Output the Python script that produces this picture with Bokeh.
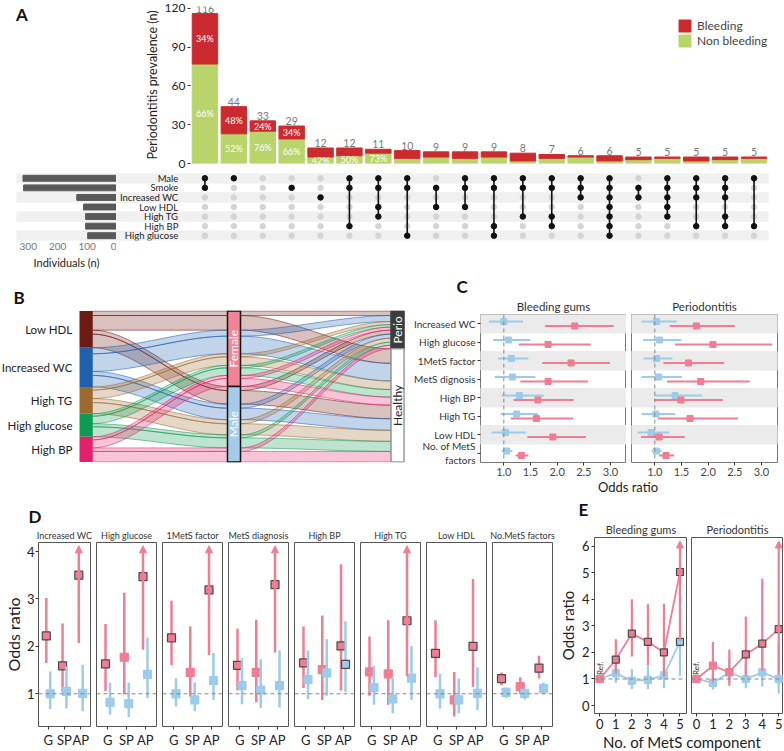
import math
import numpy as np
from bokeh.plotting import figure
from bokeh.models import (Range1d, FixedTicker, Span, Title, Legend, LegendItem, Div,
                          Arrow, NormalHead, ColumnDataSource, PrintfTickFormatter)
from bokeh.layouts import row, column
from bokeh.embed import file_html
from bokeh.resources import INLINE
from bokeh.core.properties import value

FONT = "Lato"
PINK = "#F07D92"
BLUE = "#9DCBEA"
RED = "#CB2B2F"
GREEN = "#B9D46B"

# ---------------- Panel A data ----------------
bar_totals = [116, 44, 33, 29, 12, 12, 11, 10, 9, 9, 9, 8, 7, 6, 6, 5, 5, 5, 5, 5]
bar_bleeding = [39, 21, 8, 10, 7, 6, 3, 6, 4, 5, 4, 6, 3, 1, 4, 2, 1, 3, 2, 1]
set_names = ["Male", "Smoke", "Increased WC", "Low HDL", "High TG", "High BP", "High glucose"]
set_sizes = [318, 316, 135, 112, 105, 105, 98]
combos = [
    ["Male", "Smoke"],
    ["Male"],
    [],
    ["Smoke"],
    ["Increased WC"],
    ["Male", "Smoke", "High BP"],
    ["Male", "Smoke", "Low HDL", "High TG"],
    ["Male", "Smoke", "High glucose"],
    ["Smoke", "Low HDL"],
    ["Male", "Smoke", "Low HDL"],
    ["Male", "Smoke", "High BP", "High glucose"],
    ["Male", "Smoke", "High TG"],
    ["Male", "Smoke", "High TG", "High BP"],
    ["Male", "Smoke", "Increased WC"],
    ["Male", "Smoke", "Increased WC", "Low HDL", "High TG", "High BP", "High glucose"],
    ["Smoke", "Increased WC"],
    ["Male", "Smoke", "Increased WC", "Low HDL", "High TG"],
    ["Male", "Smoke", "Increased WC", "High BP"],
    ["Male", "Smoke", "Increased WC", "High TG", "High BP"],
    ["Male", "High BP"],
]
N_PCT_RED = 4
N_PCT_GREEN = 7

# ---------------- Panel B data ----------------
sk_factors = ["Low HDL", "Increased WC", "High TG", "High glucose", "High BP"]
sk_colors = ["#6E1A14", "#1F5FAD", "#9B6A2F", "#0E9A52", "#E3206B"]
sk_sexes = ["Female", "Male"]
sk_outcomes = ["Perio", "Healthy"]
fem_perio = [9, 12, 6, 5, 6]
fem_healthy = [29, 35, 17, 15, 16]
male_perio = [8, 8, 8, 6, 7]
male_healthy = [27, 23, 22, 20, 21]

# ---------------- Panel C data ----------------
c_rows = ["Increased WC", "High glucose", "1MetS factor", "MetS dignosis", "High BP",
          "High TG", "Low HDL", "No. of MetS\nfactors"]
c_bleed_blue_or = [1.00, 1.09, 1.14, 1.16, 1.29, 1.24, 1.03, 1.05]
c_bleed_blue_lo = [0.72, 0.80, 0.89, 0.83, 0.96, 0.94, 0.77, 0.96]
c_bleed_blue_hi = [1.36, 1.50, 1.46, 1.59, 1.75, 1.64, 1.41, 1.16]
c_bleed_pink_or = [2.33, 1.83, 2.26, 1.83, 1.64, 1.61, 1.92, 1.33]
c_bleed_pink_lo = [1.77, 1.28, 1.72, 1.31, 1.18, 1.13, 1.44, 1.22]
c_bleed_pink_hi = [3.06, 2.63, 2.99, 2.58, 2.31, 2.30, 2.54, 1.46]
c_perio_blue_or = [1.03, 1.09, 1.03, 1.07, 1.38, 1.02, 0.93, 1.03]
c_perio_blue_lo = [0.75, 0.78, 0.79, 0.75, 1.00, 0.75, 0.68, 0.94]
c_perio_blue_hi = [1.41, 1.50, 1.33, 1.51, 1.89, 1.38, 1.27, 1.13]
c_perio_pink_or = [1.78, 2.09, 1.63, 1.86, 1.49, 1.66, 1.08, 1.21]
c_perio_pink_lo = [1.28, 1.38, 1.16, 1.23, 0.99, 1.06, 0.74, 1.08]
c_perio_pink_hi = [2.50, 3.20, 2.30, 2.78, 2.28, 2.56, 1.56, 1.36]

# ---------------- Panel D data ----------------
d_facets = ["Increased WC", "High glucose", "1MetS factor", "MetS diagnosis", "High BP",
            "High TG", "Low HDL", "No.MetS factors"]
d_groups = ["G", "SP", "AP"]
d_pink_or = [[2.22, 1.59, 3.50], [1.63, 1.77, 3.47], [2.18, 1.45, 3.19], [1.60, 1.45, 3.30],
             [1.65, 1.51, 2.01], [1.46, 1.42, 2.54], [1.85, 0.87, 2.00], [1.32, 1.15, 1.54]]
d_pink_lo = [[1.65, 1.03, 2.07], [1.06, 0.99, 1.93], [1.60, 0.94, 1.82], [1.07, 0.82, 1.87],
             [1.12, 0.87, 1.07], [0.96, 0.77, 1.37], [1.35, 0.52, 1.15], [1.18, 0.99, 1.32]]
d_pink_hi = [[3.02, 2.48, 5.90], [2.47, 3.13, 6.20], [2.96, 2.42, 5.60], [2.37, 2.56, 5.80],
             [2.42, 2.65, 3.73], [2.21, 2.55, 4.90], [2.55, 1.46, 3.42], [1.45, 1.35, 1.80]]
d_blue_or = [[1.00, 1.05, 1.01], [0.82, 0.79, 1.41], [1.00, 0.87, 1.28], [1.17, 1.08, 1.17],
             [1.30, 1.44, 1.62], [1.13, 0.89, 1.33], [1.00, 0.87, 1.01], [1.03, 1.01, 1.11]]
d_blue_lo = [[0.68, 0.69, 0.63], [0.56, 0.51, 0.91], [0.73, 0.63, 0.87], [0.78, 0.70, 0.71],
             [0.89, 0.96, 1.04], [0.77, 0.59, 0.87], [0.69, 0.59, 0.66], [0.91, 0.88, 0.99]]
d_blue_hi = [[1.47, 1.58, 1.61], [1.23, 1.23, 2.18], [1.33, 1.24, 1.86], [1.75, 1.73, 1.92],
             [1.91, 2.15, 2.53], [1.59, 1.33, 2.01], [1.42, 1.32, 1.56], [1.13, 1.11, 1.24]]

# ---------------- Panel E data ----------------
e_x = [0, 1, 2, 3, 4, 5]
e_bleed_pink_or = [1.0, 1.73, 2.71, 2.40, 2.00, 5.03]
e_bleed_pink_lo = [1.0, 1.20, 1.85, 1.53, 1.10, 2.45]
e_bleed_pink_hi = [1.0, 2.50, 4.00, 3.82, 3.83, 9.00]
e_bleed_blue_or = [1.0, 1.22, 0.93, 0.97, 1.14, 2.40]
e_bleed_blue_lo = [1.0, 0.85, 0.62, 0.62, 0.65, 1.10]
e_bleed_blue_hi = [1.0, 1.60, 1.38, 1.52, 1.95, 5.20]
e_perio_pink_or = [1.0, 1.50, 1.26, 1.93, 2.33, 2.88]
e_perio_pink_lo = [1.0, 0.87, 0.75, 1.10, 1.30, 1.15]
e_perio_pink_hi = [1.0, 2.39, 2.10, 3.35, 4.78, 9.00]
e_perio_blue_or = [1.0, 0.85, 1.25, 1.00, 1.25, 1.00]
e_perio_blue_lo = [1.0, 0.60, 0.85, 0.65, 0.72, 0.45]
e_perio_blue_hi = [1.0, 1.20, 1.80, 1.60, 2.30, 2.30]


# ---------------- helpers ----------------
def base_fig(width, height, xr, yr, left, right, top, bottom, xaxis=None, yaxis=None, title=False):
    p = figure(width=width, height=height, x_range=xr, y_range=yr,
               x_axis_location=xaxis, y_axis_location=yaxis,
               title_location="above" if title else None,
               output_backend="svg", toolbar_location=None,
               min_border_left=left, min_border_right=right,
               min_border_top=top, min_border_bottom=bottom)
    p.grid.visible = False
    p.outline_line_color = None
    p.background_fill_color = "white"
    p.border_fill_color = "white"
    return p


def style_axis(ax, size="11px", color="#333"):
    ax.axis_line_color = None
    ax.major_tick_line_color = "#333"
    ax.major_tick_out = 3
    ax.major_tick_in = 0
    ax.minor_tick_line_color = None
    ax.major_label_text_font = FONT
    ax.major_label_text_font_size = size
    ax.major_label_text_color = color
    ax.major_label_standoff = 2
    ax.axis_label_text_font = FONT
    ax.axis_label_text_font_style = "normal"
    ax.axis_label_text_color = "#222"
    ax.axis_label_standoff = 2


def letter_title(p, text, offset, standoff=0):
    p.title.text = text
    p.title.text_font = FONT
    p.title.text_font_size = "17px"
    p.title.text_font_style = "bold"
    p.title.text_color = "#111"
    p.title.align = "left"
    p.title.offset = offset
    p.title.standoff = standoff


def strip_main(p, text, size):
    p.title.text = text
    p.title.text_font = FONT
    p.title.text_font_size = size
    p.title.text_font_style = "normal"
    p.title.text_color = "#333"
    p.title.align = "center"
    p.title.standoff = 3


def strip_extra(p, text, size):
    p.add_layout(Title(text=text, align="center", text_font=FONT, text_font_size=size,
                       text_font_style="normal", text_color="#333", standoff=3), "above")


def ci_marks(p, xs, orv, lo, hi, color, cap, size, lw, outline=True):
    sx, sl, sh = [], [], []
    arr = dict(x0=[], y0=[], x1=[], y1=[])
    for x, l, h in zip(xs, lo, hi):
        if h > cap:
            arr["x0"].append(x); arr["y0"].append(l); arr["x1"].append(x); arr["y1"].append(cap)
        else:
            sx.append(x); sl.append(l); sh.append(h)
    p.segment(sx, sl, sx, sh, line_color=color, line_width=lw)
    if arr["x0"]:
        p.add_layout(Arrow(end=NormalHead(size=7, fill_color=color, line_color=color),
                           x_start="x0", y_start="y0", x_end="x1", y_end="y1",
                           source=ColumnDataSource(arr), line_color=color, line_width=lw))
    lc = ["#4a4a4a" if l > 1 else color for l in lo] if outline else color
    p.scatter(xs, orv, marker="square", size=size, fill_color=color, line_color=lc, line_width=1.2)


def mkdiv(html, width, height):
    return Div(text=html, width=width, height=height, margin=(0, 0, 0, 0))


# ================= Panel A =================
xb = list(range(1, len(bar_totals) + 1))
nonbleed = [t - b for t, b in zip(bar_totals, bar_bleeding)]
divA = mkdiv('<div style="font-family:Lato;font-size:17px;font-weight:bold;margin:6px 0 0 16px;line-height:17px;color:#111">A</div>',
             135, 170)
pA = base_fig(648, 170, Range1d(0.5, 20.5), Range1d(0, 121.5), 55, 15, 6, 7, xaxis=None, yaxis="left")
rg = pA.vbar(x=xb, bottom=0, top=nonbleed, width=0.88, color=GREEN)
rr = pA.vbar(x=xb, bottom=nonbleed, top=bar_totals, width=0.88, color=RED)
pct_r = ["%d%%" % round(100 * b / t) for b, t in zip(bar_bleeding, bar_totals)]
pct_g = ["%d%%" % round(100 * g / t) for g, t in zip(nonbleed, bar_totals)]
pA.text(x=xb[:N_PCT_RED], y=[(g + t) / 2 for g, t in zip(nonbleed[:N_PCT_RED], bar_totals[:N_PCT_RED])],
        text=pct_r[:N_PCT_RED], text_align="center", text_baseline="middle", text_color="white",
        text_font=value(FONT), text_font_size="9px")
pA.text(x=xb[:N_PCT_GREEN], y=[g / 2 for g in nonbleed[:N_PCT_GREEN]],
        text=pct_g[:N_PCT_GREEN], text_align="center", text_baseline="middle", text_color="white",
        text_font=value(FONT), text_font_size="9px")
pA.text(x=xb, y=bar_totals, text=[str(t) for t in bar_totals], text_align="center",
        text_baseline="bottom", y_offset=-1, text_color="#777", text_font=value(FONT), text_font_size="10.5px")
style_axis(pA.yaxis[0], "12px", "#222")
pA.yaxis.ticker = FixedTicker(ticks=[0, 30, 60, 90, 120])
pA.yaxis.axis_label = "Periodontitis prevalence (n)"
pA.yaxis.axis_label_text_font_size = "12.5px"
leg = Legend(items=[LegendItem(label="Bleeding", renderers=[rr]),
                    LegendItem(label="Non bleeding", renderers=[rg])],
             location=(487, 115), border_line_color=None, background_fill_alpha=0,
             label_text_font=FONT, label_text_font_size="12px", glyph_width=15, glyph_height=15,
             label_standoff=5, spacing=0, padding=2, margin=0, label_height=15)
pA.add_layout(leg)

rows_y = list(range(1, len(set_names) + 1))
stripe_rows = rows_y[::2]
ss_xr = Range1d(340, 0)
pSS = base_fig(116, 103, ss_xr, Range1d(7.5, 0.5), 16, 0, 3, 33, xaxis="below", yaxis=None)
pSS.hbar(y=stripe_rows, left=ss_xr.end, right=ss_xr.start, height=1, color="#F0F0F0")
pSS.hbar(y=rows_y, left=0, right=set_sizes, height=0.62, color="#595959")
style_axis(pSS.xaxis[0], "10px", "#777")
pSS.xaxis.major_tick_line_color = None
pSS.xaxis.major_tick_out = 0
pSS.xaxis.ticker = FixedTicker(ticks=[0, 100, 200, 300])
pSS.xaxis.axis_label = "Individuals (n)"
pSS.xaxis.axis_label_text_font_size = "11px"
pSS.xaxis.axis_label_standoff = 3

mat_xr = Range1d(-2.06, 20.5)
pM = base_fig(667, 103, mat_xr, Range1d(7.5, 0.5), 0, 15, 3, 33)
pM.hbar(y=stripe_rows, left=mat_xr.start, right=mat_xr.end, height=1, color="#F0F0F0")
pM.text(x=[0.08] * len(set_names), y=rows_y, text=set_names, text_align="right", text_baseline="middle",
        text_color="#222", text_font=value(FONT), text_font_size="9.5px")
gx = [c for c in xb for _ in rows_y]
gy = [r for _ in xb for r in rows_y]
pM.scatter(gx, gy, size=5.5, color="#D4D4D4")
bx, by, sx0, sy0, sy1 = [], [], [], [], []
for ci, members in enumerate(combos):
    idx = [set_names.index(m) + 1 for m in members]
    for r in idx:
        bx.append(ci + 1); by.append(r)
    if len(idx) > 1:
        sx0.append(ci + 1); sy0.append(min(idx)); sy1.append(max(idx))
pM.segment(sx0, sy0, sx0, sy1, line_color="#111", line_width=1.6)
pM.scatter(bx, by, size=5.5, color="#111")

bandA = column(row(divA, pA), row(pSS, pM))

# ================= Panel B (alluvial) =================
AX = [1.0, 1.95, 3.0]
HW = 0.0417
alluvia = []
for fi in range(len(sk_factors)):
    alluvia.append((fi, 0, 0, fem_perio[fi]))
    alluvia.append((fi, 0, 1, fem_healthy[fi]))
    alluvia.append((fi, 1, 0, male_perio[fi]))
    alluvia.append((fi, 1, 1, male_healthy[fi]))
NTOT = sum(a[3] for a in alluvia)


def stack(keyfn):
    order = sorted(range(len(alluvia)), key=lambda k: keyfn(alluvia[k]))
    pos, c = {}, 0
    for k in order:
        pos[k] = (c, c + alluvia[k][3])
        c += alluvia[k][3]
    return pos


P1 = stack(lambda a: (a[0], a[1], a[2]))
P2 = stack(lambda a: (a[1], a[0], a[2]))
P3 = stack(lambda a: (a[2], a[1], a[0]))

pB = base_fig(405, 219, Range1d(0.451, 3.051), Range1d(NTOT + 1, -1), 0, 0, 37, 30, title=True)
letter_title(pB, "B", 13, standoff=6)
t = np.linspace(0, 1, 40)
s = t * t * (3 - 2 * t)
pxs, pys, pcs = [], [], []
for k, a in enumerate(alluvia):
    for pa, pb, xa, xe in ((P1, P2, AX[0] + HW, AX[1] - HW), (P2, P3, AX[1] + HW, AX[2] - HW)):
        top = pa[k][0] + (pb[k][0] - pa[k][0]) * s
        bot = pa[k][1] + (pb[k][1] - pa[k][1]) * s
        xx = xa + (xe - xa) * t
        pxs.append(list(xx) + list(xx[::-1]))
        pys.append(list(top) + list(bot[::-1]))
        pcs.append(sk_colors[a[0]])
pB.patches(pxs, pys, fill_color=pcs, fill_alpha=0.27, line_color=pcs, line_alpha=0.55, line_width=1)

fac_tot = [fem_perio[i] + fem_healthy[i] + male_perio[i] + male_healthy[i] for i in range(len(sk_factors))]
fac_top = list(np.cumsum([0] + fac_tot[:-1]))
fac_bot = list(np.cumsum(fac_tot))
pB.quad(left=AX[0] - HW, right=AX[0] + HW, top=fac_top, bottom=fac_bot, fill_color=sk_colors, line_color=None)
pB.text(x=[AX[0] - 0.087] * len(sk_factors), y=[(a + b) / 2 for a, b in zip(fac_top, fac_bot)],
        text=sk_factors, text_align="right", text_baseline="middle", text_color="#222",
        text_font=value(FONT), text_font_size="11.5px")
sex_tot = [sum(fem_perio) + sum(fem_healthy), sum(male_perio) + sum(male_healthy)]
sex_top = [0, sex_tot[0]]
sex_bot = [sex_tot[0], sex_tot[0] + sex_tot[1]]
pB.quad(left=AX[1] - HW, right=AX[1] + HW, top=sex_top, bottom=sex_bot,
        fill_color=["#EF8597", "#A6CBEA"], line_color="#111", line_width=1.5)
pB.text(x=[AX[1]] * 2, y=[(a + b) / 2 for a, b in zip(sex_top, sex_bot)], text=sk_sexes, angle=math.pi / 2,
        text_align="center", text_baseline="middle", text_color="white", text_font=value(FONT), text_font_size="12px")
out_tot = [sum(fem_perio) + sum(male_perio), sum(fem_healthy) + sum(male_healthy)]
out_top = [0, out_tot[0]]
out_bot = [out_tot[0], out_tot[0] + out_tot[1]]
pB.quad(left=AX[2] - HW, right=AX[2] + HW, top=out_top, bottom=out_bot,
        fill_color=["#3D3D3D", "white"], line_color=["#3D3D3D", "#999"], line_width=1.5)
pB.text(x=[AX[2]] * 2, y=[(a + b) / 2 for a, b in zip(out_top, out_bot)], text=sk_outcomes, angle=math.pi / 2,
        text_align="center", text_baseline="middle", text_color=["white", "#222"], text_font=value(FONT),
        text_font_size="12px")

# ================= Panel C =================
c_y = list(range(1, len(c_rows) + 1))
c_yr = Range1d(len(c_rows) + 0.5, 0.5)


def c_panel(first, strip, bo, bl, bh, po, pl, ph):
    xr = Range1d(0.5625, 3.30)
    p = base_fig(221 if first else 157, 207, xr, c_yr, 75 if first else 5, 0 if first else 6, 37, 18,
                 xaxis="below", yaxis="left" if first else None, title=True)
    if first:
        letter_title(p, "C", -24)
        strip_extra(p, strip, "11.5px")
    else:
        strip_main(p, strip, "11.5px")
    p.outline_line_color = "#777"
    p.hbar(y=c_y[::2], left=xr.start, right=xr.end, height=1, color="#EBEBEB")
    p.add_layout(Span(location=1.0, dimension="height", line_dash="4 3", line_color="#888", line_width=1))
    yb = [v - 0.12 for v in c_y]
    yp = [v + 0.12 for v in c_y]
    p.segment(bl, yb, bh, yb, line_color=BLUE, line_width=2)
    p.scatter(bo, yb, marker="square", size=6, color=BLUE)
    p.segment(pl, yp, ph, yp, line_color=PINK, line_width=2)
    p.scatter(po, yp, marker="square", size=6, color=PINK)
    style_axis(p.xaxis[0], "11px", "#444")
    p.xaxis.ticker = FixedTicker(ticks=[1.0, 1.5, 2.0, 2.5, 3.0])
    p.xaxis.formatter = PrintfTickFormatter(format="%.1f")
    if first:
        style_axis(p.yaxis[0], "10px", "#333")
        p.yaxis.ticker = FixedTicker(ticks=c_y)
        p.yaxis.major_label_overrides = {v: n for v, n in zip(c_y, c_rows)}
    return p


pC1 = c_panel(True, "Bleeding gums", c_bleed_blue_or, c_bleed_blue_lo, c_bleed_blue_hi,
              c_bleed_pink_or, c_bleed_pink_lo, c_bleed_pink_hi)
pC2 = c_panel(False, "Periodontitis", c_perio_blue_or, c_perio_blue_lo, c_perio_blue_hi,
              c_perio_pink_or, c_perio_pink_lo, c_perio_pink_hi)
divC = mkdiv('<div style="font-family:Lato;font-size:13px;color:#222;line-height:12px;margin-left:75px;width:296px;text-align:center">Odds ratio</div>',
             378, 12)
bandB = row(pB, column(row(pC1, pC2), divC))

# ================= Panel D =================
d_yr = Range1d(0.31, 4.19)
D_CAP = 4.12
d_x = [1, 2, 3]
d_panels = []
for i, name in enumerate(d_facets):
    first = i == 0
    p = base_fig(93 if first else 66, 258, Range1d(0.4, 3.6), d_yr, 30 if first else 3, 3, 50, 21,
                 xaxis="below", yaxis="left" if first else None, title=True)
    if first:
        letter_title(p, "D", -10)
        strip_extra(p, name, "9px")
    else:
        strip_main(p, name, "9px")
    p.outline_line_color = "#555"
    p.add_layout(Span(location=1.0, dimension="width", line_dash="4 3", line_color="#888", line_width=1))
    ci_marks(p, [v - 0.12 for v in d_x], d_pink_or[i], d_pink_lo[i], d_pink_hi[i], PINK, D_CAP, 8, 2.5)
    ci_marks(p, [v + 0.12 for v in d_x], d_blue_or[i], d_blue_lo[i], d_blue_hi[i], BLUE, D_CAP, 8, 2.5)
    style_axis(p.xaxis[0], "13px", "#222")
    p.xaxis.ticker = FixedTicker(ticks=d_x)
    p.xaxis.major_label_overrides = {v: g for v, g in zip(d_x, d_groups)}
    if first:
        style_axis(p.yaxis[0], "13px", "#222")
        p.yaxis.major_label_standoff = 1
        p.yaxis.axis_label_standoff = 1
        p.yaxis.ticker = FixedTicker(ticks=[1, 2, 3, 4])
        p.yaxis.axis_label = "Odds ratio"
        p.yaxis.axis_label_text_font_size = "16px"
    d_panels.append(p)

# ================= Panel E =================
e_yr = Range1d(-0.3, 6.33)
E_CAP = 6.2


def e_panel(first, strip, xr, po, pl, ph, bo, bl, bh):
    p = base_fig(132 if first else 96, 243, xr, e_yr, 37 if first else 4, 0, 45, 22,
                 xaxis="below", yaxis="left" if first else None, title=True)
    if first:
        letter_title(p, "E", -16)
        strip_extra(p, strip, "11px")
    else:
        strip_main(p, strip, "11px")
    p.outline_line_color = "#555"
    p.add_layout(Span(location=1.0, dimension="width", line_dash="4 3", line_color="#888", line_width=1))
    p.line(e_x, bo, line_color=BLUE, line_width=1.8)
    ci_marks(p, e_x, bo, bl, bh, BLUE, E_CAP, 7, 2.2)
    p.line(e_x, po, line_color=PINK, line_width=1.8)
    ci_marks(p, e_x, po, pl, ph, PINK, E_CAP, 7, 2.2)
    p.text(x=[e_x[0]], y=[1.15], text=["Ref."], angle=math.pi / 2, text_align="left", text_baseline="middle",
           text_color="#333", text_font=value(FONT), text_font_size="8px")
    style_axis(p.xaxis[0], "13px", "#222")
    p.xaxis.ticker = FixedTicker(ticks=e_x)
    if first:
        style_axis(p.yaxis[0], "13px", "#222")
        p.yaxis.ticker = FixedTicker(ticks=[0, 1, 2, 3, 4, 5, 6])
        p.yaxis.axis_label = "Odds ratio"
        p.yaxis.axis_label_text_font_size = "15px"
    return p


pE1 = e_panel(True, "Bleeding gums", Range1d(-0.33, 5.47), e_bleed_pink_or, e_bleed_pink_lo, e_bleed_pink_hi,
              e_bleed_blue_or, e_bleed_blue_lo, e_bleed_blue_hi)
pE2 = e_panel(False, "Periodontitis", Range1d(-0.3, 5.29), e_perio_pink_or, e_perio_pink_lo, e_perio_pink_hi,
              e_perio_blue_or, e_perio_blue_lo, e_perio_blue_hi)
divE = mkdiv('<div style="font-family:Lato;font-size:15px;color:#222;line-height:15px;margin-left:37px;width:180px;text-align:center;white-space:nowrap">No. of MetS component</div>',
             228, 15)
bandD = row(*d_panels, column(row(pE1, pE2), divE))

layout = column(bandA, bandB, bandD)
open("out.html", "w").write(file_html(layout, INLINE, title="MetS periodontitis"))
